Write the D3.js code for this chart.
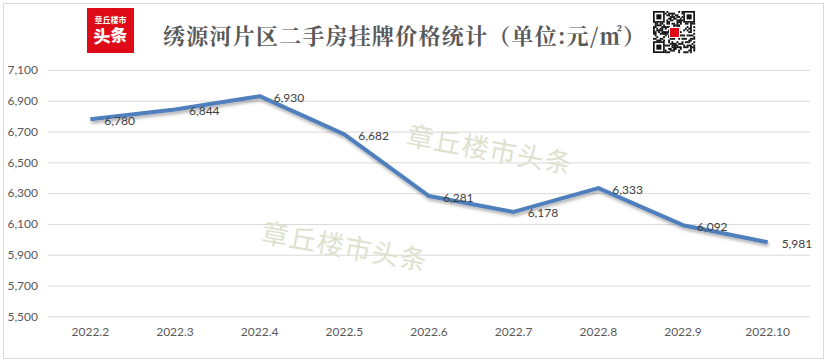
<!DOCTYPE html>
<html><head><meta charset="utf-8">
<script src="https://cdn.jsdelivr.net/npm/d3@7/dist/d3.min.js"></script>
<style>
html,body{margin:0;padding:0;background:#fff;}
svg{display:block;}
</style></head>
<body>
<svg id="c" width="829" height="364"></svg>
<script>
const categories = ["2022.2","2022.3","2022.4","2022.5","2022.6","2022.7","2022.8","2022.9","2022.10"];
const prices = [6780, 6844, 6930, 6682, 6281, 6178, 6333, 6092, 5981];
const yTicks = [5500, 5700, 5900, 6100, 6300, 6500, 6700, 6900, 7100];
const title = "绣源河片区二手房挂牌价格统计（单位:元/㎡）";
const watermark = "章丘楼市头条";

const svg = d3.select("#c");
const W = 829, H = 364;
const m = {left: 48, right: 19, top: 70, bottom: 48};

svg.append("rect").attr("x",3.5).attr("y",3.5).attr("width",820).attr("height",355)
  .attr("fill","#fff").attr("stroke","#d9d9d9").attr("stroke-width",1);

const defs = svg.append("defs");
const f = defs.append("filter").attr("id","sh").attr("x","-10%").attr("y","-20%").attr("width","120%").attr("height","150%");
f.append("feDropShadow").attr("dx",1).attr("dy",2.5).attr("stdDeviation",1.5).attr("flood-color","#000").attr("flood-opacity",0.3);

const x = d3.scaleBand().domain(categories).range([48, 810]);
const y = d3.scaleLinear().domain([5500, 7100]).range([316.3, 70]);

// gridlines
const yAxis = d3.axisLeft(y).tickValues(yTicks).tickSize(-(810-48)).tickFormat(d3.format(","));
const ga = svg.append("g").attr("transform","translate(48,0)").call(yAxis);
ga.select(".domain").remove();
ga.selectAll(".tick line").attr("stroke","#d9d9d9").attr("stroke-width",1);
ga.selectAll(".tick text").attr("x",-10).attr("fill","#595959")
  .style("font-family","Lato, 'Open Sans', sans-serif").style("font-size","12px");

// x axis labels
const xAxis = d3.axisBottom(x).tickSize(0).tickPadding(0);
const gx = svg.append("g").attr("transform","translate(0,327)").call(xAxis);
gx.select(".domain").remove();
gx.selectAll(".tick text").attr("fill","#595959")
  .style("font-family","Lato, 'Open Sans', sans-serif").style("font-size","12px");

// watermarks
[[490,148],[345,245]].forEach(([cx,cy])=>{
  svg.append("text").attr("transform",`translate(${cx},${cy}) rotate(10)`)
    .attr("text-anchor","middle").attr("dominant-baseline","central")
    .attr("fill","#dde2cf").style("font-family","'Noto Sans CJK SC', sans-serif")
    .style("font-size","27px").style("letter-spacing","1px").text(watermark);
});

// line
const line = d3.line().x((d,i)=>x(categories[i]) + x.bandwidth()/2).y(d=>y(d));
svg.append("path").datum(prices).attr("d",line).attr("fill","none")
  .attr("stroke","#4f7fbc").attr("stroke-width",4).attr("stroke-linejoin","round")
  .attr("filter","url(#sh)");

// data labels
svg.append("g").selectAll("text").data(prices).join("text")
  .attr("x",(d,i)=>x(categories[i]) + x.bandwidth()/2 + 14)
  .attr("y",d=>y(d)+1)
  .attr("dominant-baseline","central")
  .attr("fill","#404040")
  .style("font-family","Lato, 'Open Sans', sans-serif").style("font-size","12px")
  .text(d=>d3.format(",")(d));

// title
svg.append("text").attr("x",163).attr("y",34).attr("dominant-baseline","central")
  .attr("fill","#595959").style("font-family","'Noto Serif CJK SC','Noto Sans CJK SC', serif")
  .style("font-size","22px").style("font-weight","bold").attr("textLength",482).text(title);

// logo
const lg = svg.append("g");
lg.append("rect").attr("x",87).attr("y",8).attr("width",47).attr("height",45).attr("fill","#de0a17");
lg.append("text").attr("x",110.5).attr("y",23).attr("text-anchor","middle").attr("fill","#fff")
  .style("font-family","'Noto Sans CJK SC', sans-serif").style("font-size","8px").style("font-weight","bold").text("章丘楼市");
lg.append("text").attr("x",110.5).attr("y",42).attr("text-anchor","middle").attr("fill","#fff")
  .attr("transform","rotate(-4,110.5,38)")
  .style("font-family","'Noto Sans CJK SC', sans-serif").style("font-size","17px").style("font-weight","900").text("头条");

// QR code decoration (deterministic pattern)
const qr = svg.append("g").attr("transform","translate(653,11)");
const N = 25, s = 42/N;
let seed = 7;
function nx(){ seed = (seed*1103515245 + 12345) % 2147483648; return seed/2147483648; }
for(let r=0;r<N;r++) for(let c=0;c<N;c++){
  const inF = (r<7&&c<7)||(r<7&&c>=N-7)||(r>=N-7&&c<7);
  if(inF) continue;
  if(nx()<0.5) qr.append("rect").attr("x",c*s).attr("y",r*s).attr("width",s+0.2).attr("height",s+0.2).attr("fill","#111");
}
[[0,0],[0,N-7],[N-7,0]].forEach(([r,c])=>{
  qr.append("rect").attr("x",c*s+s/2).attr("y",r*s+s/2).attr("width",6*s).attr("height",6*s).attr("fill","#fff").attr("stroke","#111").attr("stroke-width",s);
  qr.append("rect").attr("x",(c+2)*s).attr("y",(r+2)*s).attr("width",3*s).attr("height",3*s).attr("fill","#111");
});
qr.append("rect").attr("x",16).attr("y",16).attr("width",11).attr("height",11).attr("fill","#fff");
qr.append("rect").attr("x",17).attr("y",17).attr("width",9).attr("height",9).attr("fill","#de0a17");
</script>
</body></html>
